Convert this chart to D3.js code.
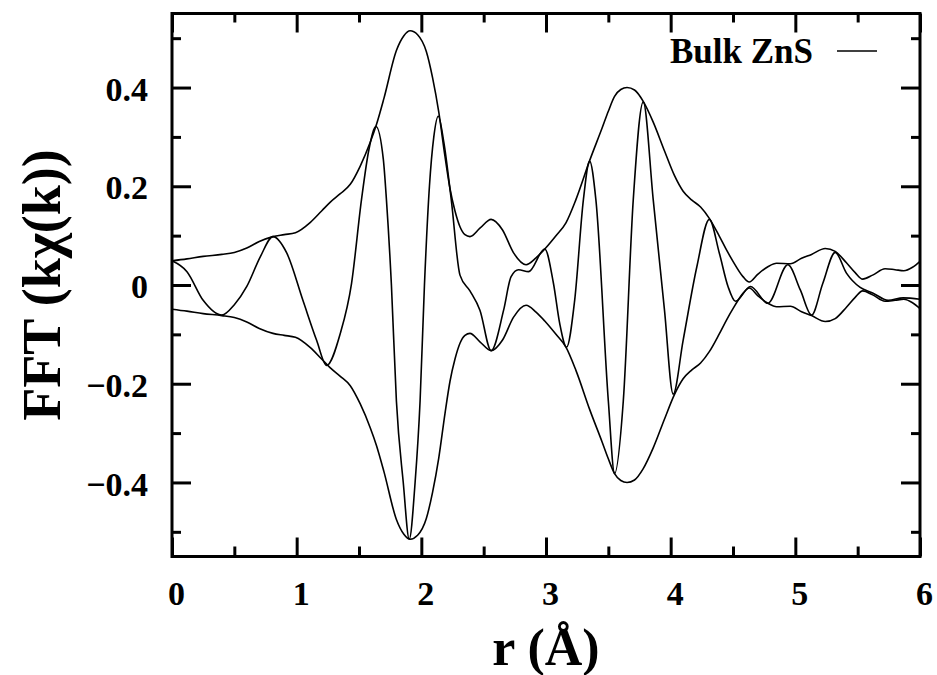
<!DOCTYPE html>
<html>
<head>
<meta charset="utf-8">
<script src="https://cdn.jsdelivr.net/npm/d3@7"></script>
<style>
  body { margin: 0; background: #fff; }
  text { font-family: 'Liberation Serif', 'Times New Roman', serif; font-weight: bold; fill: #000; }
</style>
</head>
<body>
<div id="container"></div>
<script>
// |FFT| envelope (drawn as +|FFT| and -|FFT|)
const rMag = [0.00, 0.12, 0.25, 0.40, 0.50, 0.60, 0.70, 0.81, 0.90, 0.99, 1.11, 1.20, 1.27, 1.35, 1.43, 1.51,
  1.59, 1.64, 1.70, 1.80, 1.86, 1.91, 1.97, 2.04, 2.09, 2.14, 2.19, 2.23, 2.27, 2.31, 2.35, 2.39, 2.47, 2.56,
  2.65, 2.74, 2.84, 2.92, 2.99, 3.08, 3.16, 3.24, 3.35, 3.45, 3.50, 3.55, 3.60, 3.65, 3.71, 3.78, 3.86, 3.95,
  4.03, 4.10, 4.17, 4.24, 4.31, 4.39, 4.45, 4.50, 4.58, 4.63, 4.70, 4.78, 4.85, 4.96, 5.05, 5.13, 5.24, 5.32,
  5.41, 5.48, 5.54, 5.62, 5.72, 5.80, 5.87, 5.94, 6.00]
const fftMag = [0.049, 0.053, 0.058, 0.062, 0.066, 0.075, 0.088, 0.098, 0.102, 0.106, 0.127, 0.150, 0.168, 0.185, 0.204, 0.241,
  0.289, 0.325, 0.378, 0.475, 0.505, 0.515, 0.507, 0.473, 0.420, 0.350, 0.260, 0.195, 0.150, 0.118, 0.102, 0.098, 0.115, 0.133,
  0.112, 0.065, 0.041, 0.055, 0.073, 0.100, 0.126, 0.173, 0.252, 0.318, 0.352, 0.382, 0.396, 0.400, 0.395, 0.372, 0.330, 0.272,
  0.222, 0.190, 0.172, 0.158, 0.135, 0.099, 0.070, 0.048, 0.017, 0.006, 0.022, 0.037, 0.044, 0.043, 0.054, 0.062, 0.074, 0.068,
  0.045, 0.025, 0.012, 0.020, 0.033, 0.031, 0.029, 0.036, 0.048]

// real part of the FFT
const rRe = [0.00, 0.12, 0.25, 0.40, 0.50, 0.60, 0.71, 0.81, 0.92, 1.05, 1.16, 1.24, 1.35, 1.44, 1.52, 1.58,
  1.636, 1.695, 1.72, 1.76, 1.80, 1.855, 1.903, 1.95, 1.99, 2.025, 2.065, 2.10, 2.136, 2.18, 2.24, 2.31, 2.39,
  2.47, 2.56, 2.66, 2.72, 2.78, 2.86, 2.99, 3.06, 3.11, 3.165, 3.23, 3.30, 3.35, 3.40, 3.50, 3.55, 3.62, 3.70,
  3.78, 3.86, 3.95, 4.02, 4.10, 4.21, 4.31, 4.39, 4.46, 4.52, 4.64, 4.78, 4.94, 5.04, 5.13, 5.22, 5.32, 5.41,
  5.52, 5.62, 5.745, 5.865, 6.00]
const fftRe = [0.049, 0.027, -0.031, -0.061, -0.040, -0.003, 0.058, 0.098, 0.065, -0.031, -0.112, -0.163, -0.098, 0.003, 0.173, 0.275,
  0.321, 0.255, 0.173, 0.000, -0.235, -0.400, -0.515, -0.400, -0.235, 0.000, 0.200, 0.300, 0.342, 0.290, 0.173, 0.020, -0.012,
  -0.051, -0.133, -0.051, 0.017, 0.031, 0.027, 0.073, 0.003, -0.078, -0.126, -0.031, 0.173, 0.251, 0.173, -0.235, -0.382, -0.235, 0.173,
  0.371, 0.173, -0.050, -0.221, -0.112, 0.037, 0.133, 0.065, -0.003, -0.033, -0.003, -0.037, 0.041, -0.010, -0.061, 0.003, 0.066, 0.024,
  -0.005, -0.016, -0.031, -0.026, -0.029]

const xMajor = [0, 1, 2, 3, 4, 5, 6]
const xMinor = [0.5, 1.5, 2.5, 3.5, 4.5, 5.5]
const yMajor = [-0.4, -0.2, 0, 0.2, 0.4]
const yMinor = [-0.5, -0.3, -0.1, 0.1, 0.3, 0.5]

const W = 937, H = 675
const pLeft = 172, pRight = 920, pTop = 13.5, pBottom = 556.5

const svg = d3.select('#container')
  .append('svg')
  .attr('width', W)
  .attr('height', H)

const x = d3.scaleLinear().domain([0, 6]).range([pLeft, pRight])
const y = d3.scaleLinear().domain([-0.55, 0.55]).range([pBottom, pTop])

const plot = svg.append('g')

// curves
const line = d3.line()
  .x(d => x(d[0]))
  .y(d => y(d[1]))
  .curve(d3.curveMonotoneX)

const upper = rMag.map((r, i) => [r, fftMag[i]])
const lower = rMag.map((r, i) => [r, -fftMag[i]])
const real = rRe.map((r, i) => [r, fftRe[i]])

;[upper, lower, real].forEach(data => {
  plot.append('path')
    .datum(data)
    .attr('d', line)
    .attr('fill', 'none')
    .attr('stroke', '#000')
    .attr('stroke-width', 1.6)
})

//axes: major + minor ticks on all four sides, pointing inward
const fmtY = d => d === 0 ? '0' : d3.format('.1f')(d)

const styleAxis = g => {
  g.select('.domain').remove()
  g.selectAll('.tick line').attr('stroke', '#000').attr('stroke-width', 3)
  g.selectAll('.tick text').attr('font-size', 34)
}

svg.append('g')
  .attr('transform', `translate(${pLeft},0)`)
  .call(d3.axisLeft(y).tickValues(yMajor).tickSize(-19).tickPadding(24).tickFormat(fmtY))
  .call(styleAxis)
  .call(g => g.selectAll('.tick text').attr('dy', '0.37em'))

svg.append('g')
  .attr('transform', `translate(${pLeft},0)`)
  .call(d3.axisLeft(y).tickValues(yMinor).tickSize(-9).tickFormat(''))
  .call(styleAxis)

svg.append('g')
  .attr('transform', `translate(${pRight},0)`)
  .call(d3.axisRight(y).tickValues(yMajor).tickSize(-19).tickFormat(''))
  .call(styleAxis)

svg.append('g')
  .attr('transform', `translate(${pRight},0)`)
  .call(d3.axisRight(y).tickValues(yMinor).tickSize(-9).tickFormat(''))
  .call(styleAxis)

svg.append('g')
  .attr('transform', `translate(0,${pBottom})`)
  .call(d3.axisBottom(x).tickValues(xMajor).tickSize(-19).tickPadding(24).tickFormat(d3.format('d')))
  .call(styleAxis)
  .call(g => g.selectAll('.tick text').attr('dx', 4))

svg.append('g')
  .attr('transform', `translate(0,${pBottom})`)
  .call(d3.axisBottom(x).tickValues(xMinor).tickSize(-10).tickFormat(''))
  .call(styleAxis)

svg.append('g')
  .attr('transform', `translate(0,${pTop})`)
  .call(d3.axisTop(x).tickValues(xMajor).tickSize(-19).tickFormat(''))
  .call(styleAxis)

svg.append('g')
  .attr('transform', `translate(0,${pTop})`)
  .call(d3.axisTop(x).tickValues(xMinor).tickSize(-9).tickFormat(''))
  .call(styleAxis)

// frame
svg.append('rect')
  .attr('x', pLeft)
  .attr('y', pTop)
  .attr('width', pRight - pLeft)
  .attr('height', pBottom - pTop)
  .attr('fill', 'none')
  .attr('stroke', '#000')
  .attr('stroke-width', 3)

// axis titles
svg.append('text')
  .attr('x', (pLeft + pRight) / 2)
  .attr('y', 665)
  .attr('text-anchor', 'middle')
  .attr('font-size', 52)
  .text('r (Å)')

svg.append('text')
  .attr('transform', `translate(60,${(pTop + pBottom) / 2}) rotate(-90)`)
  .attr('text-anchor', 'middle')
  .attr('font-size', 54)
  .text('FFT (kχ(k))')

// legend
svg.append('text')
  .attr('x', 813)
  .attr('y', 63)
  .attr('text-anchor', 'end')
  .attr('font-size', 35)
  .text('Bulk ZnS')

svg.append('line')
  .attr('x1', 837)
  .attr('x2', 877)
  .attr('y1', 51)
  .attr('y2', 51)
  .attr('stroke', '#000')
  .attr('stroke-width', 1.6)
</script>
</body>
</html>
